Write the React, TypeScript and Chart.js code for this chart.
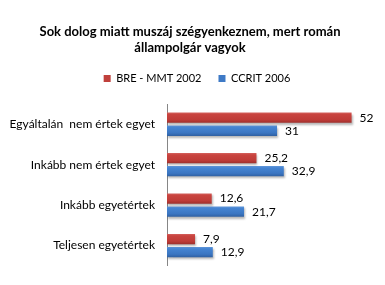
import React, { useEffect, useRef } from 'react';
import { Chart, registerables } from 'chart.js';

Chart.register(...registerables);

const titleLines = ['Sok dolog miatt muszáj szégyenkeznem, mert román', 'állampolgár vagyok'];
const categories = ['Egyáltalán  nem értek egyet', 'Inkább nem értek egyet', 'Inkább egyetértek', 'Teljesen egyetértek'];
const seriesNames = ['BRE - MMT 2002', 'CCRIT 2006'];
const series2002 = [52, 25.2, 12.6, 7.9];
const series2006 = [31, 32.9, 21.7, 12.9];
const xMin = 0;
const xMax = 60;

const FONT = 'Lato, Carlito, Calibri, "Noto Sans", sans-serif';

const solidColors = ['#C0403C', '#3E7AC6'];
const gradientStops: [number, string][][] = [
  [[0, '#D4625E'], [0.18, '#C9443F'], [0.7, '#BF3C38'], [1, '#9E2F2C']],
  [[0, '#6197DA'], [0.18, '#4584D2'], [0.7, '#3B76C2'], [1, '#2F60A2']],
];

const legendShiftPlugin = {
  id: 'legendShift',
  afterLayout(chart: any) {
    const lg = chart.legend;
    if (lg) {
      lg.left += 7;
      lg.right += 7;
    }
  },
};

const barStylePlugin = {
  id: 'barStyle',
  beforeDatasetsDraw(chart: any) {
    const ctx = chart.ctx;
    chart.data.datasets.forEach((_ds: any, di: number) => {
      const meta = chart.getDatasetMeta(di);
      const stops = gradientStops[di];
      meta.data.forEach((el: any) => {
        const { y, height } = el.getProps(['y', 'height'], true);
        const g = ctx.createLinearGradient(0, y - height / 2, 0, y + height / 2);
        stops.forEach(([o, c]) => g.addColorStop(o, c));
        el.options = { ...el.options, backgroundColor: g };
      });
    });
    ctx.save();
    ctx.shadowColor = 'rgba(0,0,0,0.28)';
    ctx.shadowOffsetX = 1;
    ctx.shadowOffsetY = 2;
    ctx.shadowBlur = 2;
  },
  afterDatasetsDraw(chart: any) {
    const ctx = chart.ctx;
    ctx.restore();
    ctx.save();
    ctx.font = `12px ${FONT}`;
    ctx.fillStyle = '#000';
    ctx.textAlign = 'left';
    ctx.textBaseline = 'middle';
    chart.data.datasets.forEach((ds: any, di: number) => {
      const meta = chart.getDatasetMeta(di);
      meta.data.forEach((el: any, i: number) => {
        const v = ds.data[i];
        const txt = String(v).replace('.', ',');
        ctx.fillText(txt, el.x + 8, el.y);
      });
    });
    ctx.restore();
  },
};

export default function App() {
  const ref = useRef<HTMLCanvasElement | null>(null);
  useEffect(() => {
    if (!ref.current) return;
    const chart = new Chart(ref.current, {
      type: 'bar',
      data: {
        labels: categories,
        datasets: [
          {
            label: seriesNames[0],
            data: series2002,
            backgroundColor: solidColors[0],
            borderWidth: 0,
            categoryPercentage: 0.644,
            barPercentage: 0.79,
          },
          {
            label: seriesNames[1],
            data: series2006,
            backgroundColor: solidColors[1],
            borderWidth: 0,
            categoryPercentage: 0.644,
            barPercentage: 0.79,
          },
        ],
      },
      options: {
        indexAxis: 'y',
        responsive: false,
        animation: false,
        events: [],
        layout: { padding: { left: 0, right: 5, top: 0, bottom: 7 } },
        scales: {
          x: { display: false, min: xMin, max: xMax },
          y: {
            grid: { display: false, drawTicks: false },
            border: { display: true, color: '#868686', width: 1 },
            ticks: { padding: 12, color: '#000', font: { family: FONT, size: 12 } },
            afterFit(scale: any) {
              scale.width = 167;
            },
          },
        },
        plugins: {
          title: {
            display: true,
            text: titleLines,
            color: '#000',
            font: { family: FONT, size: 13, weight: 'bold', lineHeight: '16px' },
            padding: { top: 24, bottom: 0 },
          },
          subtitle: {
            display: true,
            text: '',
            weight: 500,
            font: { size: 10, lineHeight: '10px' },
            padding: 0,
          } as any,
          legend: {
            display: true,
            position: 'top',
            labels: {
              boxWidth: 7,
              boxHeight: 7,
              padding: 17,
              color: '#000',
              font: { family: FONT, size: 11 },
            },
          },
          tooltip: { enabled: false },
        },
      },
      plugins: [barStylePlugin, legendShiftPlugin],
    } as any);
    return () => chart.destroy();
  }, []);
  return (
    <div style={{ position: 'absolute', left: 0, top: 0, width: 385, height: 285, background: '#fff' }}>
      <canvas ref={ref} width={385} height={285} style={{ display: 'block' }} />
    </div>
  );
}
